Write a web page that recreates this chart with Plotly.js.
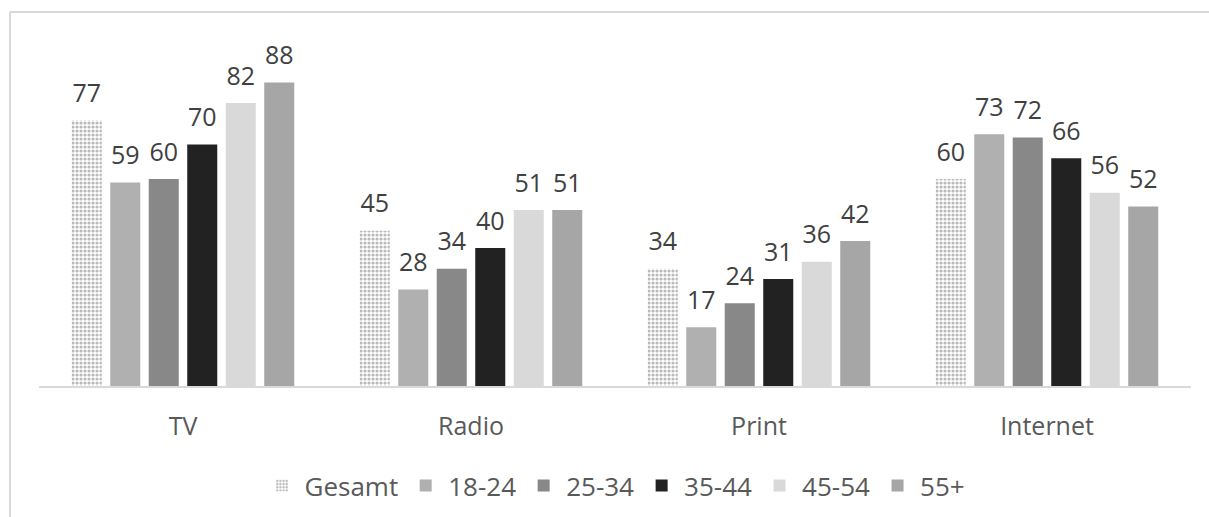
<!DOCTYPE html>
<html>
<head>
<meta charset="utf-8">
<script src="https://cdn.plot.ly/plotly-3.0.1.min.js"></script>
<style>html,body{margin:0;padding:0;background:#fff;}#chart{width:1209px;height:517px;}</style>
</head>
<body>
<div id="chart"></div>
<script>
var categories = ['TV', 'Radio', 'Print', 'Internet'];
var seriesNames = ['Gesamt', '18-24', '25-34', '35-44', '45-54', '55+'];
var gesamt = [77, 45, 34, 60];
var age18_24 = [59, 28, 17, 73];
var age25_34 = [60, 34, 24, 72];
var age35_44 = [70, 40, 31, 66];
var age45_54 = [82, 51, 36, 56];
var age55plus = [88, 51, 42, 52];
var seriesValues = [gesamt, age18_24, age25_34, age35_44, age45_54, age55plus];
var seriesColors = ['#ffffff', '#b0b0b0', '#888888', '#222222', '#d9d9d9', '#a6a6a6'];

var FONT = '"Open Sans", "DejaVu Sans", sans-serif';
var BARGAP = 0.198;

var traces = [];
seriesNames.forEach(function (name, i) {
  var marker = { color: seriesColors[i], line: { width: 0 } };
  if (i === 0) {
    marker.pattern = { shape: '.', fgcolor: '#767676', bgcolor: '#ffffff', size: 4, solidity: 0.5, fillmode: 'overlay' };
    marker.color = '#ffffff';
  }
  traces.push({
    type: 'bar', name: name, x: categories, y: seriesValues[i],
    marker: marker, hoverinfo: 'x+y+name'
  });
});
seriesNames.forEach(function (name, i) {
  traces.push({
    type: 'scatter', mode: 'markers+text', x: categories, y: seriesValues[i],
    text: seriesValues[i].map(String), textposition: 'top center',
    textfont: { family: FONT, size: 25, color: '#404040' },
    marker: { size: 18, opacity: 0 }, showlegend: false, hoverinfo: 'skip',
    cliponaxis: false
  });
});

var plotL = 39, plotR = 1191, plotB = 386.5, yMax = 100, pxPerUnit = 3.46;
var plotH = yMax * pxPerUnit;
var plotT = plotB - plotH;

var layout = {
  width: 1209, height: 517,
  margin: { l: plotL, r: 1209 - plotR, t: plotT, b: 517 - plotB, pad: 0, autoexpand: false },
  paper_bgcolor: '#ffffff', plot_bgcolor: '#ffffff',
  font: { family: FONT, size: 22, color: '#595959' },
  barmode: 'group', bargap: BARGAP, bargroupgap: 0.22,
  scattermode: 'group', scattergap: BARGAP,
  showlegend: true,
  legend: {
    orientation: 'h', x: 0.5, xanchor: 'center', y: (plotB - 486.5) / plotH, yanchor: 'middle',
    font: { family: FONT, size: 26, color: '#595959' }, traceorder: 'normal', itemwidth: 35
  },
  xaxis: {
    type: 'category', showgrid: false, zeroline: false,
    showline: true, linecolor: '#d9d9d9', linewidth: 2,
    ticks: '', ticklabelstandoff: 17, tickfont: { family: FONT, size: 25, color: '#595959' },
    fixedrange: true
  },
  yaxis: {
    range: [0, yMax], visible: false, showgrid: false, zeroline: false, fixedrange: true
  },
  shapes: [
    { type: 'line', xref: 'paper', yref: 'paper', x0: (10 - plotL) / (plotR - plotL), x1: (10 - plotL) / (plotR - plotL),
      y0: -1, y1: (plotB - 11.5) / plotH, line: { color: '#d9d9d9', width: 2 } },
    { type: 'line', xref: 'paper', yref: 'paper', x0: (10 - plotL) / (plotR - plotL), x1: 1.2,
      y0: (plotB - 11.5) / plotH, y1: (plotB - 11.5) / plotH, line: { color: '#d9d9d9', width: 2 } }
  ]
};

Plotly.newPlot('chart', traces, layout, { displayModeBar: false, staticPlot: true });
</script>
</body>
</html>
